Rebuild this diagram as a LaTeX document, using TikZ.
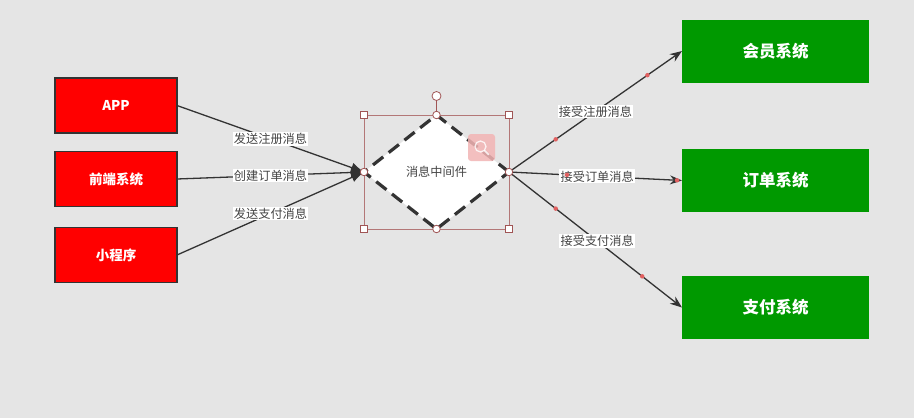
\documentclass[tikz,border=0pt]{standalone}
\usepackage{fontspec}
\setmainfont{Noto Sans CJK SC}
\usetikzlibrary{shapes.geometric,arrows.meta}
\definecolor{canvas}{HTML}{E5E5E5}
\definecolor{srcred}{HTML}{FF0000}
\definecolor{dstgreen}{HTML}{009900}
\definecolor{edge}{HTML}{333333}
\definecolor{labeltxt}{HTML}{444444}
\definecolor{handle}{HTML}{A05555}
\definecolor{waypt}{HTML}{E06060}
\definecolor{iconpink}{HTML}{F2B4B4}
\tikzset{
  srcbox/.style={draw=edge, line width=1.6pt, fill=srcred, minimum width=122pt, minimum height=55pt,
    inner sep=0pt, outer sep=0pt, text=white, font=\fontsize{13.5}{15}\selectfont\bfseries},
  dstbox/.style={fill=dstgreen, minimum width=187pt, minimum height=63pt, inner sep=0pt, outer sep=0pt,
    text=white, font=\fontsize{16.5}{18}\selectfont\bfseries},
  hub/.style={diamond, draw=edge, fill=white, line width=3.2pt, dash pattern=on 13pt off 7pt,
    minimum width=145pt, minimum height=114pt, inner sep=0pt, outer sep=0pt, aspect=1.27,
    text=labeltxt, font=\fontsize{12.2}{14}\selectfont},
  flow/.style={draw=edge, line width=1.3pt},
  inflow/.style={flow, -{Latex[length=13pt,width=10pt]}},
  outflow/.style={flow, -{Stealth[length=12pt,width=9pt]}},
  msg/.style={fill=white, inner sep=1.2pt, text=labeltxt, font=\fontsize{12.2}{14}\selectfont},
  sqhandle/.style={draw=handle, fill=white, line width=0.8pt, minimum size=7pt, inner sep=0pt},
  rdhandle/.style={circle, draw=handle, fill=white, line width=0.8pt, minimum size=7.5pt, inner sep=0pt},
  wp/.style={circle, fill=waypt, minimum size=4.5pt, inner sep=0pt}
}
\begin{document}
\begin{tikzpicture}[x=1pt,y=-1pt]
  \fill[canvas] (0,0) rectangle (914,418);
  \useasboundingbox (0,0) rectangle (914,418);

  % sources
  \node[srcbox] (app) at (116,105.5) {APP};
  \node[srcbox] (web) at (116,179) {前端系统};
  \node[srcbox] (mini) at (116,255) {小程序};

  % destinations
  \node[dstbox] (member) at (775.5,51) {会员系统};
  \node[dstbox] (order) at (775.5,180.5) {订单系统};
  \node[dstbox] (pay) at (775.5,307.5) {支付系统};

  % message broker
  \node[hub] (mq) at (436.5,172) {消息中间件};

  % incoming messages
  \draw[inflow] (app.east) -- node[msg] {发送注册消息} (mq.west);
  \draw[inflow] (web.east) -- node[msg] {创建订单消息} (mq.west);
  \draw[inflow] (mini.east) -- node[msg] {发送支付消息} (mq.west);

  % outgoing messages
  \draw[outflow] (mq.east) -- node[msg] {接受注册消息}
      node[wp, pos=0.27] {} node[wp, pos=0.8] {} (member.west);
  \draw[outflow] (mq.east) -- node[msg, pos=0.51] {接受订单消息}
      node[wp, pos=0.335] {} (order.west);
  \node[wp] (ordtip) at (677,180.3) {};
  \draw[outflow] (mq.east) -- node[msg, pos=0.51] {接受支付消息}
      node[wp, pos=0.27] {} node[wp, pos=0.77] {} (pay.west);

  % selection frame around the broker
  \draw[handle!80, line width=0.6pt] (364,115) rectangle (509,229);
  \node[sqhandle] (h1) at (364,115) {};
  \node[sqhandle] (h2) at (509,115) {};
  \node[sqhandle] (h3) at (364,229) {};
  \node[sqhandle] (h4) at (509,229) {};
  \node[rdhandle] (ht) at (436.5,115) {};
  \node[rdhandle] (hb) at (436.5,229) {};
  \node[rdhandle] (hl) at (mq.west) {};
  \node[rdhandle] (hr) at (mq.east) {};
  \node[circle, draw=handle, fill=white, line width=0.8pt, minimum size=9pt, inner sep=0pt] (rot) at (436.5,96) {};
  \draw[handle, line width=0.8pt] (rot) -- (ht);

  % zoom icon
  \fill[iconpink, opacity=0.85, rounded corners=3pt] (468,134) rectangle (495,161);
  \draw[white, opacity=0.8, line width=1.3pt] (480.5,146.5) circle (5.5pt);
  \draw[white, opacity=0.8, line width=1.6pt, line cap=round] (484.5,150.5) -- (488.5,154.5);
\end{tikzpicture}
\end{document}
